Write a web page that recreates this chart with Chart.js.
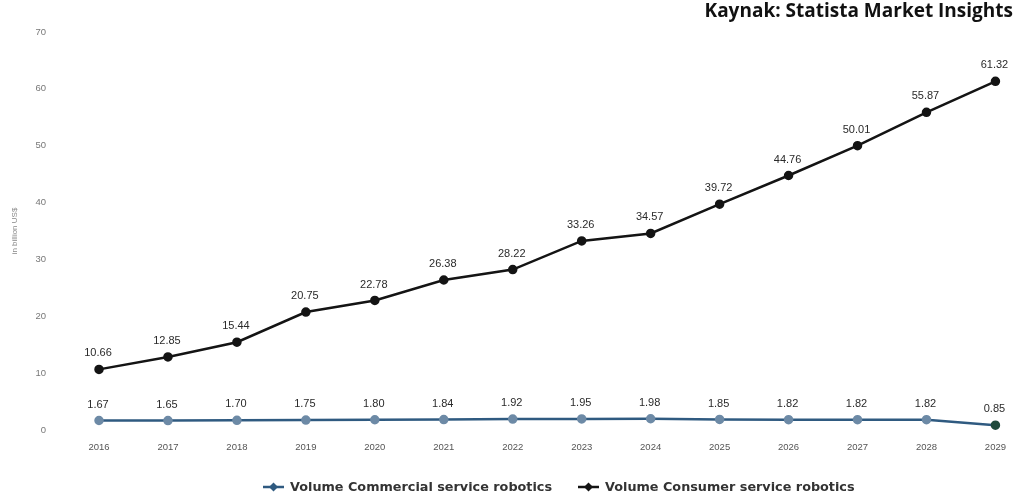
<!DOCTYPE html>
<html>
<head>
<meta charset="utf-8">
<script src="https://cdn.jsdelivr.net/npm/chart.js@4/dist/chart.umd.min.js"></script>
<style>
  html,body{margin:0;padding:0;background:#fff;}
  #wrap{width:1018px;height:504px;position:relative;}
</style>
</head>
<body>
<div id="wrap"><canvas id="c" width="1018" height="504"></canvas></div>
<script>
const years = ['2016','2017','2018','2019','2020','2021','2022','2023','2024','2025','2026','2027','2028','2029'];
const commercial = [1.67,1.65,1.70,1.75,1.80,1.84,1.92,1.95,1.98,1.85,1.82,1.82,1.82,0.85];
const consumer = [10.66,12.85,15.44,20.75,22.78,26.38,28.22,33.26,34.57,39.72,44.76,50.01,55.87,61.32];
const yTicks = [0,10,20,30,40,50,60,70];
const sourceText = 'Kaynak: Statista Market Insights';
const yTitle = 'in billion US$';

const labelPlugin = {
  id: 'pointLabels',
  afterDatasetsDraw(chart) {
    const ctx = chart.ctx;
    ctx.save();
    ctx.font = '11px "Liberation Sans", Arial, sans-serif';
    ctx.fillStyle = '#2a2a2a';
    ctx.textAlign = 'center';
    ctx.textBaseline = 'middle';
    chart.data.datasets.forEach((ds, i) => {
      const meta = chart.getDatasetMeta(i);
      meta.data.forEach((pt, j) => {
        ctx.fillText(ds.data[j].toFixed(2), pt.x - 1, pt.y - 16);
      });
    });
    ctx.restore();
  }
};
const sourcePlugin = {
  id: 'source',
  afterDraw(chart) {
    const ctx = chart.ctx;
    ctx.save();
    ctx.font = 'bold 19px "Open Sans", sans-serif';
    ctx.fillStyle = '#111';
    ctx.textAlign = 'right';
    ctx.textBaseline = 'middle';
    ctx.fillText(sourceText, 1013, 12);
    ctx.restore();
  }
};
// legend drawn from the datasets' own labels and colours
const legendPlugin = {
  id: 'customLegend',
  afterDraw(chart) {
    const ctx = chart.ctx;
    const y = 487;
    const starts = [263, 578];
    ctx.save();
    ctx.font = 'bold 12.8px "DejaVu Sans", sans-serif';
    ctx.textBaseline = 'middle';
    ctx.textAlign = 'left';
    chart.data.datasets.forEach((ds, i) => {
      const x = starts[i];
      const col = ds.borderColor;
      ctx.strokeStyle = col;
      ctx.lineWidth = 2.5;
      ctx.beginPath(); ctx.moveTo(x, y); ctx.lineTo(x + 21, y); ctx.stroke();
      ctx.fillStyle = col;
      ctx.beginPath();
      ctx.moveTo(x + 10.5, y - 4.5); ctx.lineTo(x + 15, y); ctx.lineTo(x + 10.5, y + 4.5); ctx.lineTo(x + 6, y);
      ctx.closePath(); ctx.fill();
      ctx.fillStyle = '#333';
      ctx.fillText(ds.label, x + 27, y + 0.5);
    });
    ctx.restore();
  }
};

new Chart(document.getElementById('c'), {
  type: 'line',
  data: {
    labels: years,
    datasets: [
      {
        label: 'Volume Commercial service robotics',
        data: commercial,
        borderColor: '#2f5a80',
        backgroundColor: '#4a76a0',
        pointBackgroundColor: commercial.map((v,i)=> i===commercial.length-1 ? '#1f4a3c' : '#6d8aa6'),
        pointBorderColor: commercial.map((v,i)=> i===commercial.length-1 ? '#1f4a3c' : '#6d8aa6'),
        borderWidth: 2.5,
        pointRadius: 3.5,
        pointStyle: 'circle',
        tension: 0
      },
      {
        label: 'Volume Consumer service robotics',
        data: consumer,
        borderColor: '#141414',
        backgroundColor: '#141414',
        pointBackgroundColor: '#141414',
        pointBorderColor: '#141414',
        borderWidth: 2.5,
        pointRadius: 3.5,
        tension: 0
      }
    ]
  },
  options: {
    responsive: false,
    animation: false,
    layout: { padding: { top: 32, right: 20, left: 0, bottom: 30 } },
    scales: {
      x: {
        grid: { display: false, drawTicks: false },
        border: { display: false },
        ticks: { color: '#555', font: { size: 9.5, family: '"Liberation Sans", Arial, sans-serif' }, padding: 12, maxRotation: 0 },
        afterFit(s) { s.height = 44; }
      },
      y: {
        min: 0, max: 70,
        afterBuildTicks(s) { s.ticks = yTicks.map(v => ({ value: v })); },
        grid: { display: false, drawTicks: false },
        border: { display: false },
        ticks: { color: '#777', font: { size: 9.5, family: '"Liberation Sans", Arial, sans-serif' }, padding: 53 },
        title: { display: true, text: yTitle, color: '#888', font: { size: 8, family: '"Liberation Sans", Arial, sans-serif' }, padding: { top: 10, bottom: 0 } },
        afterFit(s) { s.width = 99; s.paddingTop = 0; s.paddingBottom = 0; }
      }
    },
    plugins: {
      legend: { display: false },
      tooltip: { enabled: false }
    }
  },
  plugins: [labelPlugin, sourcePlugin, legendPlugin]
});
</script>
</body>
</html>
